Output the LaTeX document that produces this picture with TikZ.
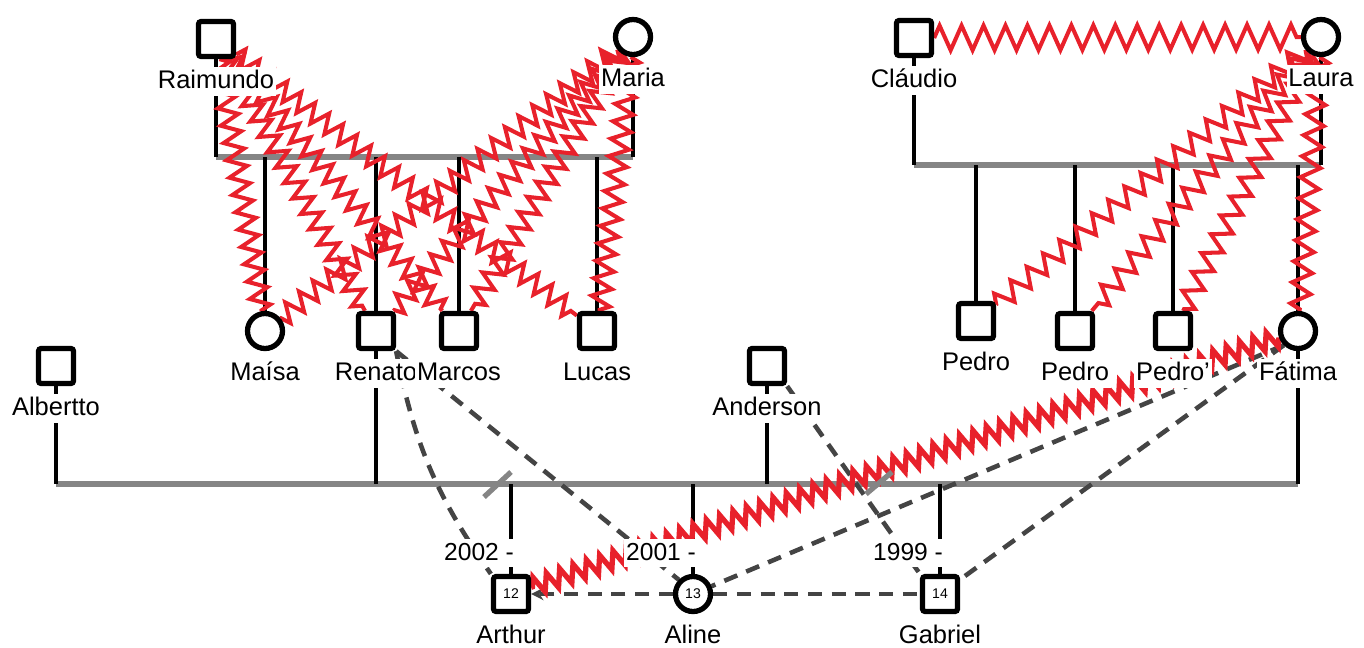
\documentclass[tikz,border=0pt]{standalone}
\usepackage{fontspec}
\setmainfont{Liberation Sans}
\usetikzlibrary{arrows.meta,positioning,decorations.pathmorphing,backgrounds}
\definecolor{feud}{HTML}{E8212B}
\definecolor{unionline}{HTML}{858585}
\definecolor{distgray}{HTML}{444444}
\tikzset{
  male/.style={rectangle,rounded corners=1.5pt,draw=black,line width=3pt,fill=white,minimum size=0.7cm,inner sep=0pt,font=\fontsize{8}{9}\selectfont},
  female/.style={circle,draw=black,line width=3pt,fill=white,minimum size=0.7cm,inner sep=0pt,font=\fontsize{8}{9}\selectfont},
  tag/.style={fill=white,inner sep=1pt,text height=11pt,text depth=3pt,font=\fontsize{14.5}{16}\selectfont},
  year/.style={fill=white,inner sep=1pt,anchor=east,text height=11pt,text depth=3pt,font=\fontsize{14}{16}\selectfont},
  kin/.style={line width=2.8pt,black},
  union/.style={line width=3.4pt,unionline},
  distant/.style={line width=2.6pt,distgray,dash pattern=on 8pt off 5.5pt},
  hostile/.style={line width=2.3pt,feud,decorate,decoration={zigzag,segment length=10pt,amplitude=5.5pt}},
  cutmark/.style={line width=3pt,unionline}
}

\begin{document}
\begin{tikzpicture}[x=0.02cm,y=-0.02cm,node distance=4.5pt]
  \useasboundingbox (0,0) rectangle (1364,647);
  % first generation
  \node[male] (rai) at (216,39) {};
  \node[female] (mar) at (633,37) {};
  \node[male] (cla) at (914,38) {};
  \node[female] (lau) at (1321,37) {};
  \node[tag,below=of rai] (raiT) {Raimundo};
  \node[tag,below=of mar] (marT) {Maria};
  \node[tag,below=of cla] (claT) {Cláudio};
  \node[tag,below=of lau] (lauT) {Laura};
  % second generation
  \node[female] (mai) at (265,331) {};
  \node[male] (ren) at (376,331) {};
  \node[male] (mcs) at (459,331) {};
  \node[male] (luc) at (597,331) {};
  \node[male] (pe1) at (976,321) {};
  \node[male] (pe2) at (1075,331) {};
  \node[male] (pe3) at (1173,331) {};
  \node[female] (fat) at (1298,331) {};
  \node[male] (alb) at (56,366) {};
  \node[male] (and) at (767,366) {};
  \node[tag,below=of mai] (maiT) {Maísa};
  \node[tag,below=of ren] (renT) {Renato};
  \node[tag,below=of mcs] (mcsT) {Marcos};
  \node[tag,below=of luc] (lucT) {Lucas};
  \node[tag,below=of pe1] (pe1T) {Pedro};
  \node[tag,below=of pe2] (pe2T) {Pedro};
  \node[tag,below=of pe3] (pe3T) {Pedro'};
  \node[tag,below=of fat] (fatT) {Fátima};
  \node[tag,below=of alb] (albT) {Albertto};
  \node[tag,below=of and] (andT) {Anderson};
  % third generation
  \node[male] (art) at (511,594) {12};
  \node[female] (ali) at (693,594) {13};
  \node[male] (gab) at (940,594) {14};
  \node[tag,below=of art] (artT) {Arthur};
  \node[tag,below=of ali] (aliT) {Aline};
  \node[tag,below=of gab] (gabT) {Gabriel};
  \node[year] (artY) at (516,553) {2002 -};
  \node[year] (aliY) at (698,553) {2001 -};
  \node[year] (gabY) at (945,553) {1999 -};
  % union levels
  \coordinate (u1) at (0,157);
  \coordinate (u2) at (0,165);
  \coordinate (u3) at (0,484);

  \begin{scope}[on background layer]
    \draw[union] (rai |- u1) -- (mar |- u1);
    \draw[union] (cla |- u2) -- (lau |- u2);
    \draw[union] (alb |- u3) -- (fat |- u3);
    \foreach \p in {rai,mar} \draw[kin] (\p) -- (\p |- u1);
    \foreach \p in {cla,lau} \draw[kin] (\p) -- (\p |- u2);
    \foreach \p in {alb,ren,and,fat} \draw[kin] (\p) -- (\p |- u3);
    \foreach \c in {mai,ren,mcs,luc} \draw[kin] (\c |- u1) -- (\c);
    \foreach \c in {pe1,pe2,pe3,fat} \draw[kin] (\c |- u2) -- (\c);
    \foreach \c in {art,ali,gab} \draw[kin] (\c |- u3) -- (\c);
    % distant ties
    \draw[distant] (ren.south east) to[bend right=12] (art.north west);
    \draw[distant] (ren.south east) -- (ali.north west);
    \draw[distant] (and.south east) -- (gab.north west);
    \draw[distant] (fat.south west) -- (ali);
    \draw[distant] (fat.south west) -- (gab);
    \draw[distant,-{Stealth[length=7pt,width=7pt]}] (ali) -- (art);
    \draw[distant] (ali) -- (gab);
    % hostile ties
    \foreach \c in {mai,ren,mcs,luc} {
      \draw[hostile] (rai) -- (\c);
      \draw[hostile] (mar) -- (\c);
    }
    \draw[hostile,decoration={segment length=12.5pt,amplitude=7pt}] (cla) -- (lau);
    \foreach \c in {pe1,pe2,pe3,fat}
      \draw[hostile,decoration={segment length=12pt,amplitude=5.5pt}] (lau) -- (\c);
    \draw[hostile,line width=3pt,decoration={segment length=8pt,amplitude=5pt}] (fat) -- (art);
    % separation marks
    \draw[cutmark] (484,497) -- (511,472);
    \draw[cutmark] (866,494) -- (892,472);
  \end{scope}
\end{tikzpicture}
\end{document}
